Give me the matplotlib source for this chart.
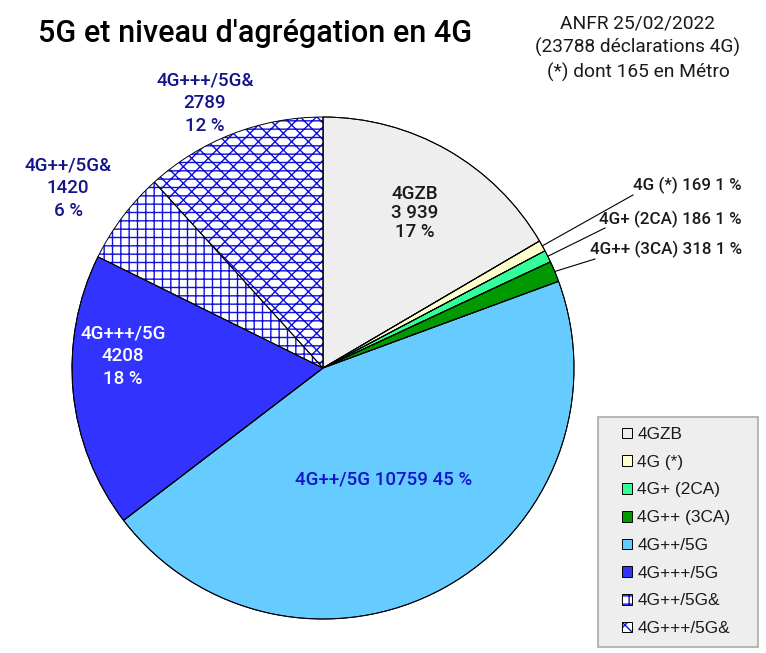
import numpy as np
import matplotlib.pyplot as plt
from matplotlib.patches import Patch, Rectangle

# ── Data ───────────────────────────────────────────────────────────
categories = ["4GZB", "4G (*)", "4G+ (2CA)", "4G++ (3CA)",
              "4G++/5G", "4G+++/5G", "4G++/5G&", "4G+++/5G&"]
counts = [3939, 169, 186, 318, 10759, 4208, 1420, 2789]
count_labels = ["3 939", "169", "186", "318", "10759", "4208", "1420", "2789"]

colors = ["#eeeeee", "#ffffcc", "#33ff99", "#009900",
          "#66ccff", "#3333ff", "#ffffff", "#ffffff"]
hatches = [None, None, None, None, None, None, "++", "--xx"]
leg_hatches = [None, None, None, None, None, None, "++", "xx"]
HATCH_CLR = "#1010dd"

W, H = 766, 653
CX, CY, RAD = 323, 368, 251


def px(x, y):
    """pixel (top-left origin) -> axes data coords"""
    return x, H - y


plt.rcParams["hatch.linewidth"] = 1.0
fig = plt.figure(figsize=(W / 100, H / 100), dpi=100)
ax = fig.add_axes([0, 0, 1, 1])

total = sum(counts)
pcts = [round(100 * c / total) for c in counts]

wedges, _ = ax.pie(counts, colors=colors, startangle=90, counterclock=False,
                   center=px(CX, CY), radius=RAD,
                   wedgeprops=dict(edgecolor="black", linewidth=0.7))
for w, h in zip(wedges, hatches):
    if h:
        w.set_hatch(h)
        w.set_edgecolor(HATCH_CLR)
        w.set_linewidth(0)
# black outlines on top
ax.pie(counts, startangle=90, counterclock=False, center=px(CX, CY),
       radius=RAD, wedgeprops=dict(fill=False, edgecolor="black",
                                   linewidth=0.7))
ax.set_xlim(0, W)
ax.set_ylim(0, H)
ax.set_aspect("equal")
ax.axis("off")

lab_font = dict(family="Roboto", fontsize=13.5, fontweight="medium",
                ha="center", va="center")

# labels of the big slices
big = {
    0: ((415, 213), "#1a1a1a", 1.1),
    5: ((123, 356), "white", 1.33),
    6: ((68, 188), "#14148c", 1.33),
    7: ((205, 103), "#14148c", 1.33),
}
for i, ((x, y), clr, ls) in big.items():
    ax.text(*px(x, y), f"{categories[i]}\n{count_labels[i]}\n{pcts[i]} %",
            color=clr, linespacing=ls, **lab_font)

ax.text(*px(384, 479), f"{categories[4]} {count_labels[4]} {pcts[4]} %",
        color="#1414c8", **lab_font)

# small slices with leader lines
small = {1: (633, 195, 185), 2: (605, 228, 219), 3: (595, 259, 249)}
for i, (ex, ey, ty) in small.items():
    w = wedges[i]
    ang = np.deg2rad((w.theta1 + w.theta2) / 2)
    sx = CX + RAD * np.cos(ang)
    sy = CY - RAD * np.sin(ang)
    ax.plot([sx, ex], [H - sy, H - ey], color="black", lw=0.8)
    ax.text(*px(742, ty), f"{categories[i]} {count_labels[i]} {pcts[i]} %",
            family="Roboto", fontsize=12.2, fontweight="medium",
            color="#1a1a1a", ha="right", va="center")

# ── Titles ─────────────────────────────────────────────────────────
ax.text(*px(38, 33), "5G et niveau d'agrégation en 4G", family="Roboto",
        fontsize=22, fontweight="medium", color="black",
        ha="left", va="center")
ax.text(*px(638, 48),
        "ANFR 25/02/2022\n(23788 déclarations 4G)\n(*) dont 165 en Métro",
        family="Roboto", fontsize=13.8, color="#1a1a1a",
        ha="center", va="center", linespacing=1.38)

# ── Legend ─────────────────────────────────────────────────────────
ax.add_patch(Rectangle(px(598, 647), 160, 230, facecolor="#eeeeee",
                       edgecolor="#aaaaaa", linewidth=1.2, zorder=4))
handles = []
for c, h in zip(colors, leg_hatches):
    if h:
        handles.append((Patch(facecolor=c, edgecolor=HATCH_CLR, hatch=h,
                              linewidth=0),
                        Patch(fill=False, edgecolor="black", linewidth=0.7)))
    else:
        handles.append(Patch(facecolor=c, edgecolor="black", linewidth=0.7))
leg = ax.legend(handles, categories, loc="upper left",
                bbox_to_anchor=(622 / W, 1 - 427 / H),
                bbox_transform=fig.transFigure,
                prop=dict(family="Liberation Sans", size=12.4),
                handlelength=0.58, handleheight=0.58, handletextpad=0.3,
                labelspacing=0.74, borderpad=0, borderaxespad=0,
                frameon=False)
leg.set_zorder(5)
for t in leg.get_texts():
    t.set_color("#1a1a1a")

fig.savefig("out.png", dpi=100)
